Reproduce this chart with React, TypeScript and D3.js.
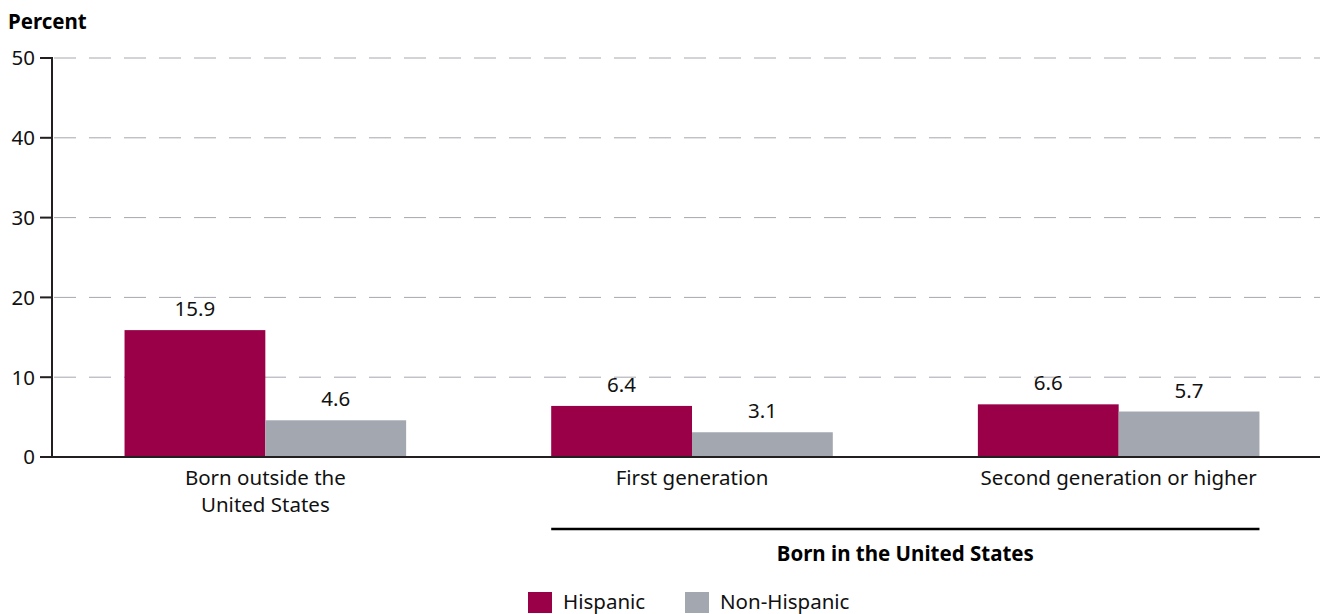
import React from "react";
import * as d3 from "d3";

const categories = ["Born outside the United States", "First generation", "Second generation or higher"];
const categoryLines = [["Born outside the", "United States"], ["First generation"], ["Second generation or higher"]];
const seriesNames = ["Hispanic", "Non-Hispanic"];
const hispanic = [15.9, 6.4, 6.6];
const nonHispanic = [4.6, 3.1, 5.7];
const yTicks = [0, 10, 20, 30, 40, 50];
const colors = ["#990047", "#A3A7AF"];
const bracketLabel = "Born in the United States";
const yTitle = "Percent";

const W = 1321;
const H = 614;
const FONT = "'Noto Sans', 'Open Sans', sans-serif";

export default function App() {
  const y = d3.scaleLinear().domain([0, 50]).range([457, 58]);
  const x0 = d3.scaleBand<string>().domain(categories).range([52, 1332]).paddingInner(0.34).paddingOuter(0.17);
  const x1 = d3.scaleBand<string>().domain(seriesNames).range([0, x0.bandwidth()]);
  const series = [hispanic, nonHispanic];
  const axisColor = "#231F20";
  const fs = 20.5;

  return (
    <svg width={W} height={H} style={{ position: "absolute", left: 0, top: 0, background: "#fff" }} fontFamily={FONT}>
      <text x={8} y={29} fontSize={fs} fontWeight="bold" fill="#000">{yTitle}</text>
      {yTicks.map((t) => (
        <g key={t}>
          {t > 0 && (
            <line x1={53} x2={1320} y1={y(t)} y2={y(t)} stroke="#A6A6B0" strokeWidth={1} strokeDasharray="22 13" strokeDashoffset={-1} />
          )}
          <line x1={40} x2={52} y1={y(t)} y2={y(t)} stroke={axisColor} strokeWidth={2} />
          <text x={35} y={y(t)} dy="0.36em" textAnchor="end" fontSize={fs} fill="#111">{t}</text>
        </g>
      ))}
      {categories.map((c, i) => (
        <g key={c} transform={`translate(${x0(c)},0)`}>
          {seriesNames.map((s, j) => {
            const v = series[j][i];
            const bx = x1(s)!;
            return (
              <g key={s}>
                <rect x={bx} y={y(v)} width={x1.bandwidth()} height={y(0) - y(v)} fill={colors[j]} />
                <text x={bx + x1.bandwidth() / 2} y={y(v) - 14} textAnchor="middle" fontSize={fs} fill="#111">{v.toFixed(1)}</text>
              </g>
            );
          })}
          {categoryLines[i].map((ln, k) => (
            <text key={k} x={x0.bandwidth() / 2} y={485 + k * 27} textAnchor="middle" fontSize={fs} fill="#111">{ln}</text>
          ))}
        </g>
      ))}
      <line x1={52} x2={52} y1={57} y2={458} stroke={axisColor} strokeWidth={2} />
      <line x1={40} x2={1320} y1={y(0)} y2={y(0)} stroke={axisColor} strokeWidth={2} />
      {(() => {
        const xa = x0(categories[1])!;
        const xb = x0(categories[2])! + x0.bandwidth();
        return (
          <g>
            <line x1={xa} x2={xb} y1={529} y2={529} stroke="#000" strokeWidth={2.5} />
            <text x={(xa + xb) / 2} y={561} textAnchor="middle" fontSize={fs} fontWeight="bold" fill="#000">{bracketLabel}</text>
          </g>
        );
      })()}
      {seriesNames.map((s, j) => {
        const lx = j === 0 ? 528 : 685;
        return (
          <g key={s}>
            <rect x={lx} y={592} width={24} height={21} fill={colors[j]} />
            <text x={lx + 35} y={609} fontSize={fs} fill="#111">{s}</text>
          </g>
        );
      })}
    </svg>
  );
}
